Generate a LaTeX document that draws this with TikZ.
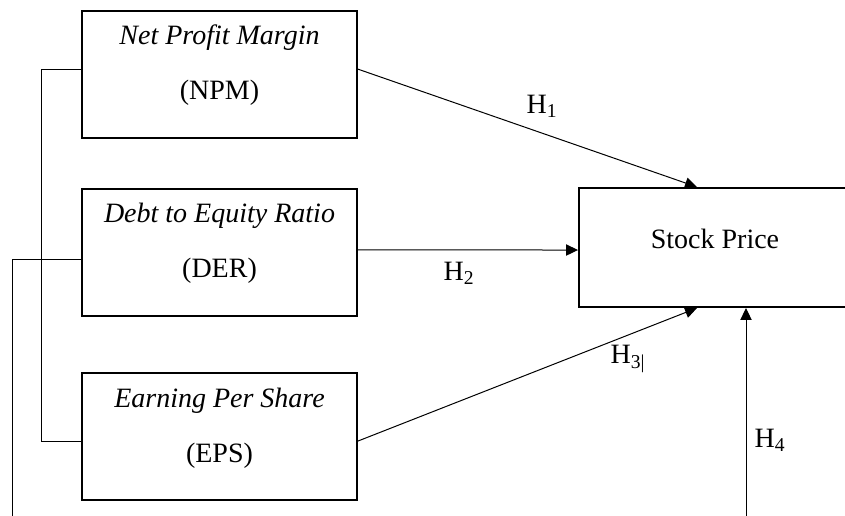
\documentclass[tikz,border=0pt]{standalone}
\usepackage{fontspec}
\setmainfont{Liberation Serif}
\usetikzlibrary{arrows.meta}

\begin{document}
\begin{tikzpicture}[x=0.75pt,y=-0.75pt,
	varbox/.style={draw,line width=1.5pt,minimum width=206.25pt,minimum height=95.25pt,align=center,
		text height=56.25pt,text depth=18pt,font=\fontsize{21}{41.25}\selectfont},
	pricebox/.style={draw,line width=1.5pt,minimum width=204pt,minimum height=89.25pt,
		text height=15pt,text depth=14pt,font=\fontsize{21}{25}\selectfont},
	hyp/.style={font=\fontsize{21}{25}\selectfont},
	link/.style={line width=0.75pt},
	arr/.style={line width=0.75pt,-{Triangle[length=9pt,width=8.5pt]}}]

	\useasboundingbox (0,0) rectangle (845,516);

	\node[varbox] (npm) at (219.5,74.5) {\textit{Net Profit Margin}\\(NPM)};
	\node[varbox] (der) at (219.5,252.5) {\textit{Debt to Equity Ratio}\\(DER)};
	\node[varbox] (eps) at (219.5,436.5) {\textit{Earning Per Share}\\(EPS)};
	\node[pricebox] (stock) at (715,247.5) {Stock Price};

	\node[hyp] (h1) at (542,106) {H\textsubscript{1}};
	\node[hyp] (h2) at (459,273) {H\textsubscript{2}};
	\node[hyp] (h3) at (628,359) {H\textsubscript{3|}};
	\node[hyp] (h4) at (770,440) {H\textsubscript{4}};

	\coordinate (derfoot) at (12,525);
	\coordinate (h4foot) at (746,525);

	\draw[link] ([yshift=4pt]npm.west) -- ++(-40,0) |- ([yshift=-3.4pt]eps.west);
	\draw[link] ([yshift=-4.9pt]der.west) -| (derfoot);

	\draw[arr] ([yshift=4pt]npm.east) -- ([xshift=-13.5pt]stock.north);
	\draw[arr] ([yshift=2pt]der.east) -- ([yshift=-1.9pt]stock.west);
	\draw[arr] ([yshift=-3.4pt]eps.east) -- ([xshift=-13.5pt]stock.south);
	\draw[arr] (h4foot) -- (h4foot |- stock.south);

\end{tikzpicture}
\end{document}
